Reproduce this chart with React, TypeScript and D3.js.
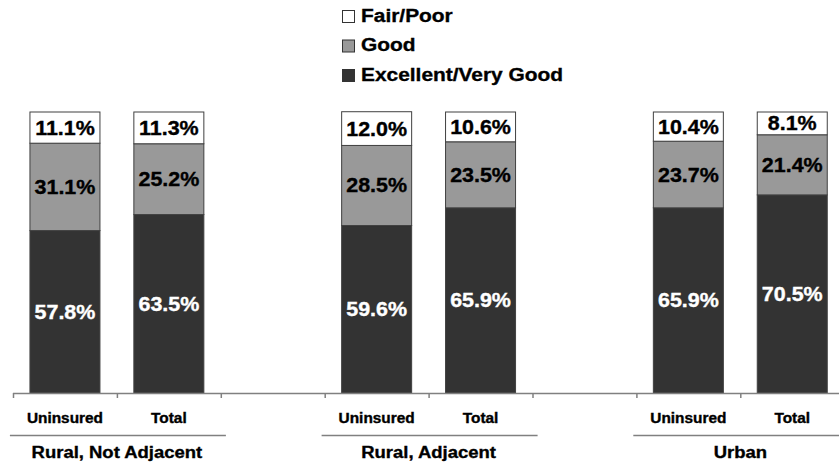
import React from "react";
import * as d3 from "d3";

const W = 839;
const H = 463;

// Slots along the x axis; empty slots separate the three groups
const slots = ["u1", "t1", "g1", "u2", "t2", "g2", "u3", "t3"];
const barSlots = ["u1", "t1", "u2", "t2", "u3", "t3"];
const barLabels = ["Uninsured", "Total", "Uninsured", "Total", "Uninsured", "Total"];
const groups = ["Rural, Not Adjacent", "Rural, Adjacent", "Urban"];

const excellent = [57.8, 63.5, 59.6, 65.9, 65.9, 70.5];
const good = [31.1, 25.2, 28.5, 23.5, 23.7, 21.4];
const fairPoor = [11.1, 11.3, 12.0, 10.6, 10.4, 8.1];

const seriesNames = ["Excellent/Very Good", "Good", "Fair/Poor"];
const seriesColors = ["#333333", "#999999", "#ffffff"];
const labelColors = ["#ffffff", "#000000", "#000000"];

const FONT = "'Liberation Sans', Arial, Helvetica, sans-serif";
const SX = 1.1;

function T({ x, y, size, fill = "#000", anchor = "middle", children }: any) {
  return (
    <text
      transform={`translate(${x},${y}) scale(${SX},1)`}
      fontFamily={FONT}
      fontWeight="bold"
      fontSize={size}
      fill={fill}
      stroke={fill}
      strokeWidth={0.35}
      textAnchor={anchor}
    >
      {children}
    </text>
  );
}

export default function App() {
  const x = d3.scaleBand<string>().domain(slots).range([13, 13 + 8 * 103.9]).padding(0);
  const y = d3.scaleLinear().domain([0, 100]).range([393, 112]);
  const barW = 70;

  const rows = barSlots.map((s, i) => ({
    slot: s,
    excellent: excellent[i],
    good: good[i],
    fair: fairPoor[i],
  }));
  const stack = d3.stack<any>().keys(["excellent", "good", "fair"]);
  const layers = stack(rows);

  const legendOrder = [2, 1, 0];

  return (
    <svg width={W} height={H} style={{ display: "block", position: "absolute", left: 0, top: 0 }}>
      <rect width={W} height={H} fill="#fff" />
      {/* Legend */}
      {legendOrder.map((si, r) => (
        <g key={si}>
          <rect
            x={342.5}
            y={10.5 + r * 29.5}
            width={12}
            height={12}
            fill={seriesColors[si]}
            stroke="#333"
            strokeWidth={1}
          />
          <T x={361} y={21.5 + r * 29.5} size={19} anchor="start">
            {seriesNames[si]}
          </T>
        </g>
      ))}

      {/* Stacked bars */}
      {layers.map((layer, li) => (
        <g key={li}>
          {layer.map((d, i) => {
            const cx = (x(barSlots[i]) as number) + x.bandwidth() / 2;
            const y0 = y(d[0]);
            const y1 = y(d[1]);
            return (
              <g key={i}>
                <rect
                  x={cx - barW / 2}
                  y={y1}
                  width={barW}
                  height={y0 - y1}
                  fill={seriesColors[li]}
                  stroke="#404040"
                  strokeWidth={1}
                />
                <T x={cx} y={(y0 + y1) / 2 + 7} size={19.5} fill={labelColors[li]}>
                  {`${(d[1] - d[0]).toFixed(1)}%`}
                </T>
              </g>
            );
          })}
        </g>
      ))}

      {/* Axis */}
      <line x1={13} x2={W} y1={393.5} y2={393.5} stroke="#808080" strokeWidth={1.5} />
      {slots.map((s) => (
        <line
          key={s}
          x1={(x(s) as number) + 0.5}
          x2={(x(s) as number) + 0.5}
          y1={393}
          y2={398}
          stroke="#808080"
          strokeWidth={1.5}
        />
      ))}

      {/* Category labels */}
      {barSlots.map((s, i) => (
        <T key={s} x={(x(s) as number) + x.bandwidth() / 2} y={423} size={14}>
          {barLabels[i]}
        </T>
      ))}

      {/* Group labels with underlines */}
      {groups.map((g, gi) => {
        const c = (x(barSlots[gi * 2 + 1]) as number);
        return (
          <g key={g}>
            <line x1={c - 107} x2={c + 109} y1={435.5} y2={435.5} stroke="#808080" strokeWidth={1.5} />
            <T x={c} y={458} size={16.8}>
              {g}
            </T>
          </g>
        );
      })}
    </svg>
  );
}
